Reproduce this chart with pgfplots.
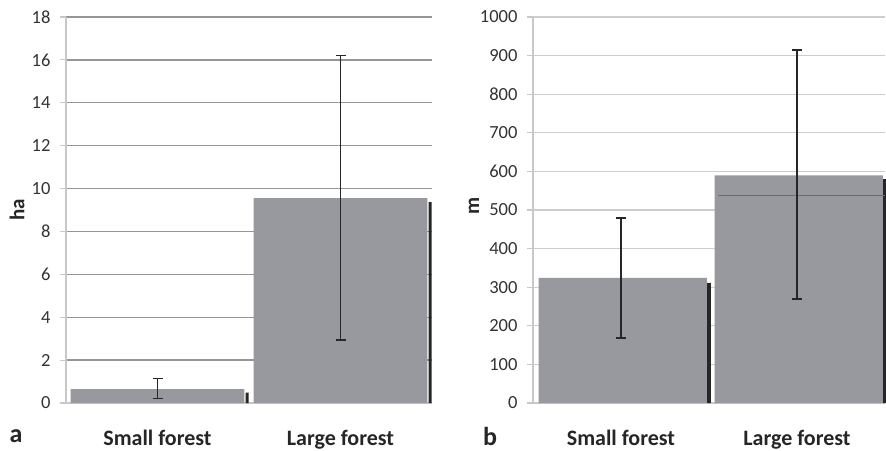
\documentclass[border=0pt]{standalone}
\usepackage{pgfplots}
\pgfplotsset{compat=1.18}
\usepackage{fontspec}
\setmainfont{Carlito}
\definecolor{barg}{RGB}{152,153,158}
\definecolor{gridA}{RGB}{150,150,150}
\definecolor{gridB}{RGB}{205,205,205}
\definecolor{axg}{RGB}{200,200,200}
\begin{document}
\begin{tikzpicture}[x=1pt,y=1pt]
\useasboundingbox (0,0) rectangle (886,450);
\pgfplotsset{
  myaxis/.style={
    scale only axis, anchor=origin,
    xmin=-0.5, xmax=1.5, ymin=0,
    axis x line=bottom, axis y line=left,
    axis line style={-, draw=axg, line width=1.2pt},
    xtick={0,1}, xticklabels={Small forest, Large forest},
    major x tick style={draw=none},
    extra x ticks={-0.5,0.5,1.5}, extra x tick labels={},
    extra x tick style={major tick length=6pt, tick style={draw=axg, line width=1.2pt}, grid=none, tick align=outside},
    xticklabel style={font=\fontsize{22}{22}\selectfont\bfseries, yshift=-21pt, text=black!85},
    yticklabel style={font=\fontsize{18.5}{18.5}\selectfont, text=black!80, xshift=-6pt},
    /pgf/number format/assume math mode=true,
    /pgf/number format/1000 sep={},
    ytick align=outside, major tick length=6pt,
    y tick style={draw=axg, line width=1.2pt},
    ymajorgrids,
    clip=false,
  }
}
% Panel a
\begin{axis}[myaxis, at={(157.5pt,47pt)}, width=366pt, height=386pt, ymax=18, ytick={0,2,...,18},
  major grid style={draw=gridA, line width=1.3pt}]
\addplot[ybar, bar width=0.95, fill=barg, draw=none] coordinates {(0,0.65) (1,9.55)};
\addplot[ybar, bar width=0.016, bar shift=0.49, fill=black!85, draw=none] coordinates {(0,0.48) (1,9.37)};
\addplot[draw=none, mark=none, forget plot,
  error bars/.cd, y dir=both, y explicit,
  error bar style={line width=1.4pt, black!85},
  error mark options={rotate=90, mark size=5pt, line width=1.4pt, black!85}]
  coordinates {(0,0.65) +=(0,0.48) -=(0,0.45) (1,9.55) +=(0,6.65) -=(0,6.61)};
\end{axis}
% Panel b
\begin{axis}[myaxis, at={(621pt,47pt)}, width=352pt, height=386pt, ymax=1000, ytick={0,100,...,1000},
  major grid style={draw=gridB, line width=1.3pt}]
\addplot[ybar, bar width=0.955, bar shift=0.01, fill=barg, draw=none] coordinates {(0,324) (1,590)};
\addplot[ybar, bar width=0.02, bar shift=0.5, fill=black!85, draw=none] coordinates {(0,311) (1,580)};
\addplot[gray!85!black, line width=0.5pt] coordinates {(0.55,539) (1.5,539)};
\addplot[draw=none, mark=none, forget plot,
  error bars/.cd, y dir=both, y explicit,
  error bar style={line width=1.4pt, black!85},
  error mark options={rotate=90, mark size=5pt, line width=1.4pt, black!85}]
  coordinates {(0,324) +=(0,155) -=(0,156) (1,590) +=(0,325) -=(0,321)};
\end{axis}
\node[font=\fontsize{21}{21}\selectfont\bfseries, rotate=90, text=black!85] at (17,240) {ha};
\node[font=\fontsize{21}{21}\selectfont\bfseries, rotate=90, text=black!85] at (474,244) {m};
\node[font=\fontsize{26}{26}\selectfont\bfseries, text=black!85] at (16,14) {a};
\node[font=\fontsize{26}{26}\selectfont\bfseries, text=black!85] at (490,14) {b};
\end{tikzpicture}
\end{document}
